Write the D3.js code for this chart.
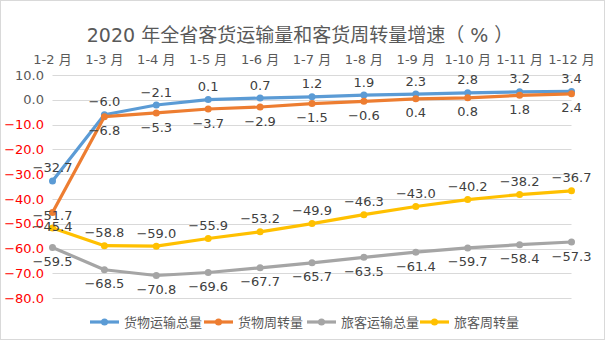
<!DOCTYPE html>
<html><head><meta charset="utf-8">
<script src="https://cdn.jsdelivr.net/npm/d3@7"></script>
<style>body{margin:0;background:#fff;}svg{display:block;font-family:"DejaVu Sans","Noto Sans CJK SC",sans-serif;}</style>
</head><body><svg id="c" width="605" height="340"></svg>
<script>
const categories = ["1-2月","1-3月","1-4月","1-5月","1-6月","1-7月","1-8月","1-9月","1-10月","1-11月","1-12月"];
const seriesNames = ["货物运输总量","货物周转量","旅客运输总量","旅客周转量"];
const freightVolume = [-32.7,-6.0,-2.1,0.1,0.7,1.2,1.9,2.3,2.8,3.2,3.4];
const freightTurnover = [-45.4,-6.8,-5.3,-3.7,-2.9,-1.5,-0.6,0.4,0.8,1.8,2.4];
const passengerVolume = [-59.5,-68.5,-70.8,-69.6,-67.7,-65.7,-63.5,-61.4,-59.7,-58.4,-57.3];
const passengerTurnover = [-51.7,-58.8,-59.0,-55.9,-53.2,-49.9,-46.3,-43.0,-40.2,-38.2,-36.7];
const yTicks = [10,0,-10,-20,-30,-40,-50,-60,-70,-80];
const title = "2020 年全省客货运输量和客货周转量增速（ % ）";

const colors = ["#5B9BD5","#ED7D31","#A5A5A5","#FFC000"];
const labelPos = ["above","below","below","above"];
const series = [freightVolume,freightTurnover,passengerVolume,passengerTurnover];

const svg = d3.select("#c");
svg.append("rect").attr("x",0.5).attr("y",0.5).attr("width",604).attr("height",339)
  .attr("fill","#fff").attr("stroke","#D9D9D9");

const x = d3.scalePoint().domain(categories).range([52.5,571.5]);
const y = d3.scaleLinear().domain([-80,10]).range([298.3,75]);

svg.append("text").attr("x",300).attr("y",35).attr("dy","0.35em").attr("text-anchor","middle")
  .attr("font-size",19).attr("fill","#595959").text(title);

// gridlines
svg.append("g").selectAll("line").data(yTicks).join("line")
  .attr("x1",52.5).attr("x2",571.5).attr("y1",d=>Math.round(y(d))+0.5).attr("y2",d=>Math.round(y(d))+0.5)
  .attr("stroke","#D9D9D9").attr("stroke-width",1);

// y labels
svg.append("g").selectAll("text").data(yTicks).join("text")
  .attr("x",44).attr("y",d=>y(d)).attr("dy","0.35em").attr("text-anchor","end")
  .attr("font-size",13).attr("fill",d=>d<0?"#FF0000":"#595959")
  .text(d=>d3.format(".1f")(d));

// x labels on top
svg.append("g").selectAll("text").data(categories).join("text")
  .attr("x",d=>x(d)).attr("y",59).attr("dy","0.35em").attr("text-anchor","middle")
  .attr("font-size",13).attr("fill","#595959").text(d=>d.replace("月"," 月"));

const line = d3.line().x((d,i)=>x(categories[i])).y(d=>y(d));
series.forEach((s,k)=>{
  const g = svg.append("g");
  g.append("path").attr("d",line(s)).attr("fill","none").attr("stroke",colors[k])
    .attr("stroke-width",3.2).attr("stroke-linejoin","round").attr("stroke-linecap","round");
  g.selectAll("circle").data(s).join("circle")
    .attr("cx",(d,i)=>x(categories[i])).attr("cy",d=>y(d)).attr("r",3.5).attr("fill",colors[k]);
});
series.forEach((s,k)=>{
  svg.append("g").selectAll("text").data(s).join("text")
    .attr("x",(d,i)=>x(categories[i])).attr("y",d=>y(d)+(labelPos[k]==="above"?-13:14))
    .attr("dy","0.35em").attr("text-anchor","middle").attr("font-size",13).attr("fill","#404040")
    .text(d=>d3.format(".1f")(d));
});

// legend
const legX = [90,204,307,420];
const lg = svg.append("g");
seriesNames.forEach((n,k)=>{
  lg.append("line").attr("x1",legX[k]).attr("x2",legX[k]+29).attr("y1",322).attr("y2",322)
    .attr("stroke",colors[k]).attr("stroke-width",3.2);
  lg.append("circle").attr("cx",legX[k]+14.5).attr("cy",322).attr("r",3.5).attr("fill",colors[k]);
  lg.append("text").attr("x",legX[k]+34).attr("y",322).attr("dy","0.35em").attr("font-size",13)
    .attr("fill","#595959").text(n);
});
</script></body></html>
